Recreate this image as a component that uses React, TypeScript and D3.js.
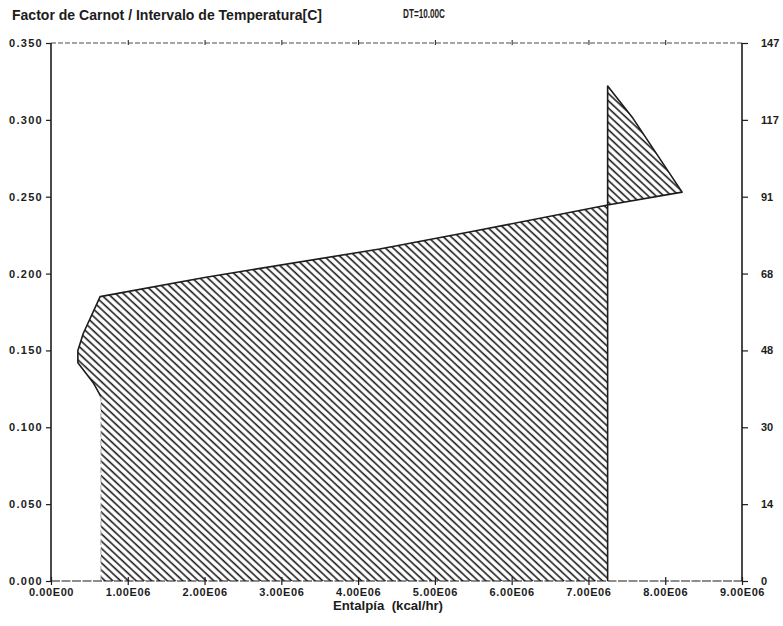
import React, { useEffect, useRef } from 'react';
import * as d3 from 'd3';

// outline of the hatched area, enthalpy (kcal/hr) vs Carnot factor
const enthalpy = [0.65e6, 0.65e6, 0.55e6, 0.35e6, 0.35e6, 0.42e6, 0.64e6, 2.0e6, 4.28e6, 5.5e6, 7.25e6, 8.22e6, 7.58e6, 7.25e6, 7.25e6];
const carnot = [0.0, 0.12, 0.129, 0.142, 0.15, 0.161, 0.185, 0.1975, 0.216, 0.2275, 0.2446, 0.253, 0.301, 0.322, 0.0];

const xTicks = [0, 1e6, 2e6, 3e6, 4e6, 5e6, 6e6, 7e6, 8e6, 9e6];
const xTickLabels = ['0.00E00', '1.00E06', '2.00E06', '3.00E06', '4.00E06', '5.00E06', '6.00E06', '7.00E06', '8.00E06', '9.00E06'];
const yTicks = [0, 0.05, 0.1, 0.15, 0.2, 0.25, 0.3, 0.35];
const yTickLabels = ['0.000', '0.050', '0.100', '0.150', '0.200', '0.250', '0.300', '0.350'];
const tempLabels = ['0', '14', '30', '48', '68', '91', '117', '147'];

const W = 783;
const H = 626;
const FONT = '"Liberation Sans", Arial, sans-serif';
const INK = '#1c1c1c';

export default function App() {
  const ref = useRef<SVGSVGElement | null>(null);

  useEffect(() => {
    const svg = d3.select(ref.current);
    svg.selectAll('*').remove();

    const x = d3.scaleLinear().domain([0, 9e6]).range([51, 742]);
    const y = d3.scaleLinear().domain([0, 0.35]).range([581, 43]);

    const defs = svg.append('defs');
    const pat = defs.append('pattern')
      .attr('id', 'hatch')
      .attr('patternUnits', 'userSpaceOnUse')
      .attr('width', 5.3)
      .attr('height', 10)
      .attr('patternTransform', 'rotate(-47)');
    pat.append('line')
      .attr('x1', 2).attr('y1', 0).attr('x2', 2).attr('y2', 10)
      .attr('stroke', INK).attr('stroke-width', 1.6);

    const pts: [number, number][] = enthalpy.map((e, i) => [e, carnot[i]]);
    const line = d3.line<[number, number]>().x((d) => x(d[0])).y((d) => y(d[1]));

    svg.append('path')
      .attr('d', line(pts) + 'Z')
      .attr('fill', 'url(#hatch)')
      .attr('stroke', 'none');

    // outline, left vertical edge is faint in the original
    svg.append('path')
      .attr('d', line(pts.slice(1)))
      .attr('fill', 'none')
      .attr('stroke', INK)
      .attr('stroke-width', 1.6)
      .attr('stroke-linejoin', 'round');
    svg.append('path')
      .attr('d', line(pts.slice(0, 2)))
      .attr('fill', 'none')
      .attr('stroke', '#aaa')
      .attr('stroke-width', 1)
      .attr('stroke-dasharray', '6 3');

    // frame lines
    svg.append('line')
      .attr('x1', 51).attr('x2', 742).attr('y1', 43).attr('y2', 43)
      .attr('stroke', INK).attr('stroke-width', 0.8).attr('stroke-dasharray', '5 2');
    svg.append('line')
      .attr('x1', 51).attr('x2', 742).attr('y1', 581).attr('y2', 581)
      .attr('stroke', INK).attr('stroke-width', 1.2).attr('stroke-dasharray', '9 1.5');

    const styleAxis = (g: any, spacing: number) => {
      g.select('.domain').remove();
      g.selectAll('.tick line').attr('stroke', INK).attr('stroke-width', 1.2);
      g.selectAll('.tick text')
        .attr('fill', INK)
        .attr('font-family', FONT)
        .attr('font-weight', 'bold')
        .attr('font-size', 11)
        .attr('letter-spacing', spacing);
    };

    // bottom axis
    const gx = svg.append('g').attr('transform', 'translate(0,581)')
      .call(d3.axisBottom(x).tickValues(xTicks).tickSize(4).tickPadding(3)
        .tickFormat((d, i) => xTickLabels[i]));
    styleAxis(gx, 0.6);
    gx.selectAll('.tick line').attr('y1', -4);

    // top ticks
    const gt = svg.append('g').attr('transform', 'translate(0,43)')
      .call(d3.axisTop(x).tickValues(xTicks.slice(1, -1)).tickSize(3).tickFormat(() => ''));
    styleAxis(gt, 0);
    gt.selectAll('.tick line').attr('y1', 2).attr('stroke-width', 1);

    // left axis
    const gy = svg.append('g').attr('transform', 'translate(51,0)')
      .call(d3.axisLeft(y).tickValues(yTicks).tickSize(5).tickPadding(3)
        .tickFormat((d, i) => yTickLabels[i]));
    styleAxis(gy, 1.3);
    svg.append('line')
      .attr('x1', 51).attr('x2', 51).attr('y1', 43).attr('y2', 581)
      .attr('stroke', INK).attr('stroke-width', 1.6);

    // right axis (temperature)
    const gr = svg.append('g').attr('transform', 'translate(742,0)')
      .call(d3.axisRight(y).tickValues(yTicks).tickSize(6).tickPadding(13)
        .tickFormat((d, i) => tempLabels[i]));
    styleAxis(gr, 0);
    svg.append('line')
      .attr('x1', 742).attr('x2', 742).attr('y1', 43).attr('y2', 581)
      .attr('stroke', INK).attr('stroke-width', 1.6);

    // titles
    svg.append('text')
      .attr('x', 12).attr('y', 20)
      .attr('font-family', FONT).attr('font-weight', 'bold').attr('font-size', 14)
      .attr('textLength', 310).attr('lengthAdjust', 'spacingAndGlyphs')
      .attr('fill', INK)
      .text('Factor de Carnot / Intervalo de Temperatura[C]');
    svg.append('text')
      .attr('x', 403).attr('y', 18)
      .attr('font-family', FONT).attr('font-weight', 'bold').attr('font-size', 12.5)
      .attr('textLength', 42).attr('lengthAdjust', 'spacingAndGlyphs')
      .attr('fill', INK)
      .text('DT=10.00C');
    svg.append('text')
      .attr('x', 333).attr('y', 610)
      .attr('font-family', FONT).attr('font-weight', 'bold').attr('font-size', 12)
      .attr('textLength', 110).attr('lengthAdjust', 'spacingAndGlyphs')
      .attr('fill', INK)
      .style('white-space', 'pre')
      .text('Entalpía  (kcal/hr)');
  }, []);

  return (
    <svg
      ref={ref}
      width={W}
      height={H}
      style={{ position: 'absolute', left: 0, top: 0, background: '#fff' }}
    />
  );
}
